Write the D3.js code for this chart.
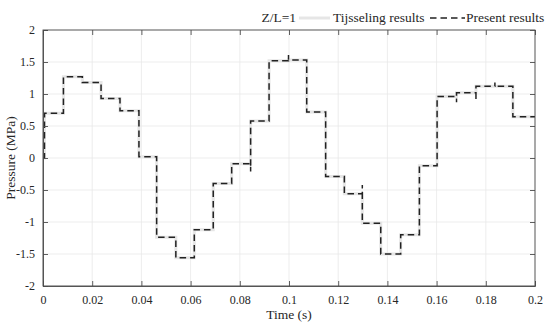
<!DOCTYPE html>
<html>
<head>
<meta charset="utf-8">
<script src="https://cdn.jsdelivr.net/npm/d3@7"></script>
<style>
  body { margin: 0; background: #fff; }
  text { font-family: "Liberation Serif", "DejaVu Serif", serif; fill: #262626; }
</style>
</head>
<body>
<div id="chart"></div>
<script>
// step series (stepAfter: value holds until next time)
const presentTime = [0, 0.0006, 0.0083, 0.016, 0.0236, 0.0313, 0.039, 0.0462, 0.054, 0.0615,
  0.0692, 0.0767, 0.0844, 0.0844, 0.0919, 0.0998, 0.0998, 0.1072, 0.1149, 0.1225, 0.1298,
  0.1298, 0.1373, 0.1454, 0.153, 0.1602, 0.1681, 0.1681, 0.176, 0.176, 0.1837, 0.1837, 0.191, 0.2];
const presentPressure = [0, 0.7, 1.27, 1.18, 0.93, 0.74, 0.02, -1.24, -1.56, -1.12,
  -0.4, -0.09, -0.21, 0.58, 1.52, 1.61, 1.53, 0.72, -0.29, -0.56, -0.42,
  -1.02, -1.5, -1.2, -0.12, 0.96, 0.87, 1.02, 0.9, 1.12, 1.18, 1.12, 0.645, 0.645];

const tijsTime = [0, 0.0006, 0.0083, 0.016, 0.0236, 0.0313, 0.039, 0.0462, 0.054, 0.0615,
  0.0692, 0.0767, 0.0844, 0.0919, 0.0998, 0.1072, 0.1149, 0.1225, 0.1298, 0.1373, 0.1454,
  0.153, 0.1602, 0.1681, 0.176, 0.191, 0.2];
const tijsPressure = [0, 0.7, 1.27, 1.18, 0.93, 0.74, 0.02, -1.24, -1.56, -1.12,
  -0.4, -0.09, 0.58, 1.52, 1.53, 0.72, -0.29, -0.56, -1.02, -1.5, -1.2,
  -0.12, 0.96, 1.02, 1.12, 0.645, 0.645];

const xTicks = [0, 0.02, 0.04, 0.06, 0.08, 0.1, 0.12, 0.14, 0.16, 0.18, 0.2];
const yTicks = [-2, -1.5, -1, -0.5, 0, 0.5, 1, 1.5, 2];

const W = 550, H = 325;
const margin = {top: 30, right: 15, bottom: 39, left: 43},
    width = W - margin.left - margin.right,
    height = H - margin.top - margin.bottom;

const svg = d3.select("#chart")
    .append("svg")
    .attr("width", W)
    .attr("height", H);

const g = svg.append("g")
    .attr("transform", `translate(${margin.left},${margin.top})`);

const x = d3.scaleLinear().domain([0, 0.2]).range([0, width]);
const y = d3.scaleLinear().domain([-2, 2]).range([height, 0]);

// grid
g.append("g").selectAll("line").data(xTicks).join("line")
    .attr("x1", d => x(d)).attr("x2", d => x(d))
    .attr("y1", 0).attr("y2", height)
    .attr("stroke", "#e8e8e8").attr("stroke-width", 0.8);
g.append("g").selectAll("line").data(yTicks).join("line")
    .attr("y1", d => y(d)).attr("y2", d => y(d))
    .attr("x1", 0).attr("x2", width)
    .attr("stroke", "#e8e8e8").attr("stroke-width", 0.8);

// lines
const line = d3.line()
    .x(d => x(d[0]))
    .y(d => y(d[1]))
    .curve(d3.curveStepAfter);

g.append("path")
    .datum(d3.zip(tijsTime, tijsPressure))
    .attr("fill", "none")
    .attr("stroke", "#e6e6e6")
    .attr("stroke-width", 3)
    .attr("d", line);

g.append("path")
    .datum(d3.zip(presentTime, presentPressure))
    .attr("fill", "none")
    .attr("stroke", "#222")
    .attr("stroke-width", 1.5)
    .attr("stroke-dasharray", "6.5,4")
    .attr("d", line);

// axes (inward ticks, box)
const tickLen = 5;
const fmt = d => String(d);

const xBottom = g.append("g")
    .attr("transform", `translate(0,${height})`)
    .call(d3.axisBottom(x).tickValues(xTicks).tickSize(-tickLen).tickPadding(9).tickFormat(fmt));
const xTop = g.append("g")
    .call(d3.axisTop(x).tickValues(xTicks).tickSize(-tickLen).tickFormat(""));
const yLeft = g.append("g")
    .call(d3.axisLeft(y).tickValues(yTicks).tickSize(-tickLen).tickPadding(8).tickFormat(fmt));
const yRight = g.append("g")
    .attr("transform", `translate(${width},0)`)
    .call(d3.axisRight(y).tickValues(yTicks).tickSize(-tickLen).tickFormat(""));

[xBottom, xTop, yLeft, yRight].forEach(a => {
    a.selectAll("path, line").attr("stroke", "#4d4d4d").attr("stroke-width", 0.9);
    a.selectAll("text").style("font-size", "12px").attr("fill", "#262626")
        .style("font-family", "'Liberation Serif', serif");
});
xTop.select(".domain").remove();
yRight.select(".domain").remove();
g.append("rect")
    .attr("width", width).attr("height", height)
    .attr("fill", "none").attr("stroke", "#4d4d4d").attr("stroke-width", 0.9);

// axis labels
svg.append("text")
    .attr("x", margin.left + width / 2).attr("y", 319)
    .attr("text-anchor", "middle")
    .style("font-size", "13.5px")
    .text("Time (s)");
svg.append("text")
    .attr("transform", `translate(15,${margin.top + height / 2}) rotate(-90)`)
    .attr("text-anchor", "middle")
    .style("font-size", "13.5px")
    .text("Pressure (MPa)");

// legend
const lg = svg.append("g").attr("transform", "translate(0,22)");
lg.append("text").attr("x", 296).attr("text-anchor", "end").style("font-size", "13.5px").text("Z/L=1");
lg.append("line").attr("x1", 299).attr("x2", 330).attr("y1", -4).attr("y2", -4)
    .attr("stroke", "#e6e6e6").attr("stroke-width", 3);
lg.append("text").attr("x", 333).style("font-size", "13.5px").text("Tijsseling results");
lg.append("line").attr("x1", 430).attr("x2", 465).attr("y1", -4).attr("y2", -4)
    .attr("stroke", "#222").attr("stroke-width", 1.5).attr("stroke-dasharray", "6.5,4");
lg.append("text").attr("x", 466).style("font-size", "13.5px").text("Present results");
</script>
</body>
</html>
